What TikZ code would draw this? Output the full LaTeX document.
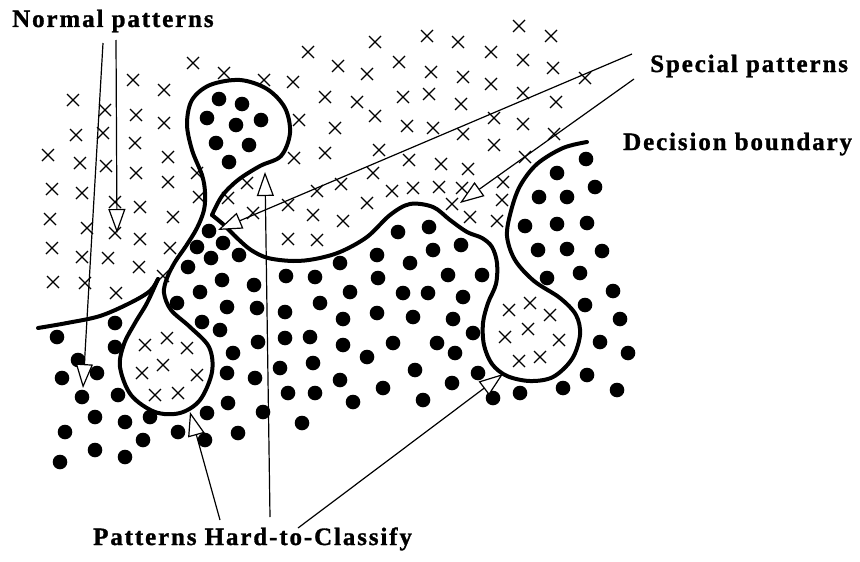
\documentclass[tikz,border=0pt]{standalone}
\usepackage{fontspec}
\newfontfamily\labfont{Liberation Serif Bold}[LetterSpace=7.5,FakeBold=1.2]
\usetikzlibrary{arrows.meta}
\begin{document}
\begin{tikzpicture}[x=1pt,y=-1pt,
  crs/.style={line width=1.3pt},
  bnd/.style={line width=4pt, line cap=round, line join=round},
  ptr/.style={line width=1.2pt, -{Triangle[fill=white,length=24pt,width=17pt,line width=1.2pt]}},
  lab/.style={font=\labfont\fontsize{25}{27}\selectfont, inner sep=0pt, anchor=base west}]
\useasboundingbox (0,0) rectangle (860,562);
% crosses
\foreach \x/\y in {193/63,224/73,264/80,133/80,164/90,73/100,105/110,136/115,164/123,76/135,103/133,135/143,
  48/155,80/163,106/166,136/173,168/157,168/182,197/173,52/189,82/193,115/202,140/207,199/197,50/219,87/228,
  115/233,173/217,228/198,247/183,253/213,52/248,82/257,108/258,140/239,170/248,53/282,85/283,139/267,163/276,116/293,
  308/52,375/42,427/36,458/42,519/26,551/36,338/66,367/74,399/62,431/72,463/77,491/52,523/60,553/68,
  293/82,325/97,357/102,403/97,429/94,461/104,491/84,523/93,556/102,299/120,335/128,375/116,407/126,433/128,
  463/134,494/118,523/124,554/134,294/158,325/153,379/150,409/160,441/164,468/169,494/145,525/157,
  288/205,317/191,341/184,373/173,392/191,413/188,439/187,462/188,313/215,343/221,367/203,452/204,470/217,
  503/182,502/200,497/221,288/239,317/240,585/78,
  509/310,530/303,550/315,528/329,505/337,559/340,519/361,540/357,
  145/345,167/338,187/348,142/373,163/365,197/375,155/395,178/393}
  {\draw[crs] (\x-6,\y-6) -- (\x+6,\y+6) (\x-6,\y+6) -- (\x+6,\y-6);}
% dots
\foreach \x/\y in {219/99,242/104,207/118,236/125,261/120,216/143,249/145,229/162,
  209/231,197/247,223/243,239/255,211/258,188/267,222/280,200/292,254/285,286/276,
  177/303,227/307,257/308,285/312,202/322,220/330,258/342,285/338,233/353,227/373,255/378,280/368,
  228/403,263/412,288/393,207/413,205/440,238/433,302/423,178/432,143/440,150/417,125/422,125/457,
  95/450,95/417,65/432,60/462,118/395,82/397,62/378,97/373,78/360,57/337,115/347,115/323,
  398/232,429/227,461/245,340/263,377/255,410/263,433/250,315/277,378/278,448/275,482/275,350/292,
  403/293,428/293,463/297,320/303,343/319,377/313,413/317,453/319,473/333,310/337,343/345,393/343,
  437/343,455/353,313/363,367/357,415/370,340/380,478/373,315/393,383/388,452/383,353/402,423/400,
  493/398,520/393,
  525/226,557/224,587/223,538/250,567/249,602/251,547/278,580/273,613/291,585/305,620/319,600/342,
  628/353,587/375,563/388,617/390,586/159,557/173,595/187,539/197,567/197}
  {\fill (\x,\y) circle[radius=7.3];}
% decision boundary
\draw[bnd] plot[smooth,tension=0.55] coordinates {(38,328) (67,323) (100,316) (130,303) (150,291) (158,279)};
\draw[bnd] plot[smooth,tension=0.55] coordinates {(158,279) (147,303) (135,323) (124,344) (120,367) (131,395)
  (155,412) (180,413) (200,400) (212,372) (209,347) (190,327) (171,310) (164,293) (167,278) (175,262)
  (186,246) (197,228) (204,210) (205,192) (202,175) (192,150) (187,124) (192,100) (210,85) (240,80)
  (267,89) (285,108) (290,133) (281,156) (260,166) (238,180) (222,196) (212,215)};
\draw[bnd] plot[smooth,tension=0.55] coordinates {(212,215) (224,225) (237,238) (251,250) (268,258) (293,261)
  (315,259) (340,252) (367,237) (390,215) (410,204) (433,207) (450,220) (467,232) (482,238) (492,247)
  (497,263) (496,284) (488,303) (483,323) (484,345) (492,364) (507,376) (530,381) (553,377) (572,359)
  (580,335) (576,315) (560,298) (534,281) (515,260) (507,236) (511,211) (520,186) (537,164) (563,148) (587,142)};
% labels
\node[lab] (np) at (12,27) {Normal patterns};
\node[lab] (sp) at (650,72) {Special patterns};
\node[lab] (db) at (623,150) {Decision boundary};
\node[lab] (hc) at (93,545) {Patterns Hard-to-Classify};
% arrow ends
\coordinate (n1s) at (103,43);  \coordinate (n1e) at (83,388);
\coordinate (n2s) at (116,40);  \coordinate (n2e) at (117,233);
\coordinate (s1s) at (632,54);  \coordinate (s1e) at (218,230);
\coordinate (s2s) at (634,79);  \coordinate (s2e) at (460,203);
\coordinate (h1s) at (220,520); \coordinate (h1e) at (190,412);
\coordinate (h2s) at (270,517); \coordinate (h2e) at (265,172);
\coordinate (h3s) at (298,528); \coordinate (h3e) at (503,374);
\draw[ptr] (n1s) -- (n1e);
\draw[ptr] (n2s) -- (n2e);
\draw[ptr] (s1s) -- (s1e);
\draw[ptr] (s2s) -- (s2e);
\draw[ptr] (h1s) -- (h1e);
\draw[ptr] (h2s) -- (h2e);
\draw[ptr] (h3s) -- (h3e);
\end{tikzpicture}
\end{document}
